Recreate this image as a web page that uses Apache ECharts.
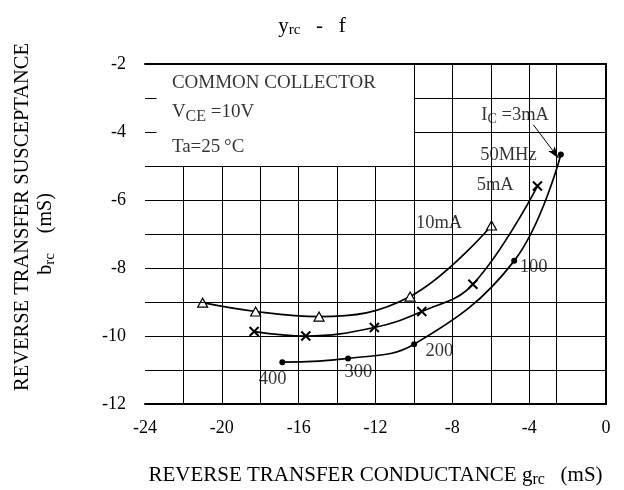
<!DOCTYPE html>
<html><head><meta charset="utf-8">
<script src="https://cdn.jsdelivr.net/npm/echarts@6/dist/echarts.min.js"></script>
<style>html,body{margin:0;padding:0;background:#fff}#c{width:624px;height:490px}</style>
</head><body><div id="c"></div>
<script>
// axis ranges / ticks
const xRange = [-24, 0];
const yRange = [-12, -2];
const xTickStep = 4;
const yTickStep = 2;
// grid lines (as printed in the original)
const gridLinesX = [-22, -20, -18, -16, -14, -12, -10, -8, -6, -4, -2.6];
const gridLinesY = [-3, -4, -5, -6, -7, -8, -9, -10, -11];
// legend box occupies x in [-24,-10], y in [-5,-2]
const boxEdgeX = -10;
const boxEdgeY = -5;

// series: I_C = 10 mA (triangles)
const ic10X = [-21.0, -18.24, -14.94, -10.2, -5.96];
const ic10Y = [-9.02, -9.28, -9.43, -8.84, -6.75];
// I_C = 5 mA (crosses)
const ic5X = [-18.32, -15.63, -12.06, -9.59, -6.93, -3.57];
const ic5Y = [-9.87, -10.0, -9.75, -9.28, -8.48, -5.59];
// I_C = 3 mA (dots)
const ic3X = [-16.85, -13.43, -9.99, -4.78, -2.35];
const ic3Y = [-10.77, -10.66, -10.24, -7.79, -4.66];

// annotations on the curves
const curveLabelTexts = ['I{sub|C} =3mA', '50MHz', '5mA', '10mA', '100', '200', '300', '400'];
const curveLabelX = [-4.73, -5.08, -5.77, -8.69, -3.77, -8.67, -12.89, -17.35];
const curveLabelY = [-3.5, -4.68, -5.56, -6.69, -7.98, -10.46, -11.05, -11.27];
const arrowFrom = [-3.78, -3.79];
const arrowTo = [-2.47, -4.77];

// legend box texts
const boxTexts = ['COMMON COLLECTOR', 'V{sub|CE} =10V', 'Ta=25\u2009\u00b0C'];
const boxX = [-22.6, -22.6, -22.6];
const boxY = [-2.56, -3.42, -4.43];

const FONT = 'Liberation Serif';
const zip = (xs, ys) => xs.map((x, i) => [x, ys[i]]);

const gridSegs = [];
gridLinesX.forEach(v => {
  const top = v < boxEdgeX ? boxEdgeY : yRange[1];
  gridSegs.push([{coord: [v, yRange[0]]}, {coord: [v, top]}]);
});
gridLinesY.forEach(v => {
  const left = v > boxEdgeY ? boxEdgeX : xRange[0];
  gridSegs.push([{coord: [left, v]}, {coord: [xRange[1], v]}]);
  if (v > boxEdgeY) gridSegs.push([{coord: [xRange[0], v]}, {coord: [xRange[0] + 0.6, v]}]);
});

const subRich = {sub: {fontSize: 14, fontFamily: FONT, color: '#000', padding: [9, 0, 0, 0]}};

const chart = echarts.init(document.getElementById('c'), null, {renderer: 'canvas'});
const frameAxis = {
  type: 'value', z: 10,
  axisLine: {show: true, lineStyle: {color: '#000', width: 2}},
  axisTick: {show: false}, splitLine: {show: false}
};
chart.setOption({
  animation: false,
  backgroundColor: '#fff',
  title: {
    text: 'y{sub|rc}   -   f', left: 'center', top: 10,
    textStyle: {fontFamily: FONT, fontSize: 21, fontWeight: 'normal', color: '#000',
      rich: {sub: {fontSize: 15, fontFamily: FONT, color: '#000', padding: [8, 0, 0, 0]}}}
  },
  grid: {left: 145, top: 64, width: 461, height: 340, containLabel: false, outerBoundsMode: 'none'},
  xAxis: [
    Object.assign({}, frameAxis, {
      min: xRange[0], max: xRange[1], interval: xTickStep, position: 'bottom',
      axisLabel: {color: '#000', fontSize: 18, fontFamily: FONT, margin: 15},
      name: 'REVERSE TRANSFER CONDUCTANCE g{sub|rc}   (mS)', nameLocation: 'middle', nameGap: 59,
      nameTextStyle: {color: '#000', fontSize: 21, fontFamily: FONT,
        rich: {sub: {fontSize: 16, fontFamily: FONT, color: '#000', padding: [9, 0, 0, 0]}}}
    }),
    Object.assign({}, frameAxis, {
      min: xRange[0], max: xRange[1], interval: xTickStep, position: 'top', axisLabel: {show: false}
    })
  ],
  yAxis: [
    Object.assign({}, frameAxis, {
      min: yRange[0], max: yRange[1], interval: yTickStep, position: 'left',
      axisLabel: {color: '#000', fontSize: 18, fontFamily: FONT, margin: 19},
      name: 'REVERSE TRANSFER SUSCEPTANCE', nameLocation: 'middle', nameRotate: 90, nameGap: 112,
      nameTextStyle: {color: '#000', fontSize: 20.5, fontFamily: FONT, padding: [0, 0, 0, 34]}
    }),
    Object.assign({}, frameAxis, {
      min: yRange[0], max: yRange[1], interval: yTickStep, position: 'right', axisLabel: {show: false}
    }),
    {
      type: 'value', min: yRange[0], max: yRange[1], position: 'left', show: true,
      axisLine: {show: false}, axisTick: {show: false}, axisLabel: {show: false}, splitLine: {show: false},
      name: 'b{sub|rc}    (mS)', nameLocation: 'middle', nameRotate: 90, nameGap: 87,
      nameTextStyle: {color: '#000', fontSize: 20, fontFamily: FONT,
        rich: {sub: {fontSize: 15, fontFamily: FONT, color: '#000', padding: [9, 0, 0, 0]}}}
    }
  ],
  series: [
    {
      name: 'grid', type: 'line', data: [], z: 1, silent: true,
      markLine: {silent: true, symbol: ['none', 'none'], label: {show: false},
        lineStyle: {color: '#000', width: 1, type: 'solid'}, emphasis: {disabled: true},
        data: gridSegs}
    },
    {
      name: 'annotations', type: 'scatter', symbolSize: 0, z: 3, silent: true,
      data: curveLabelTexts.map((t, i) => ({value: [curveLabelX[i], curveLabelY[i]],
        label: {show: true, position: 'inside', formatter: () => t, color: '#000', fontSize: 18.5,
          fontFamily: FONT, backgroundColor: '#fff', padding: [1, 3], rich: subRich}}))
        .concat(boxTexts.map((t, i) => ({value: [boxX[i], boxY[i]],
          label: {show: true, position: 'right', distance: 0, formatter: () => t, color: '#000',
            fontSize: 19, fontFamily: FONT, rich: {sub: {fontSize: 16, fontFamily: FONT, color: '#000', padding: [10, 0, 0, 0]}}}}))),
      markLine: {silent: true, symbol: ['none', 'arrow'], symbolSize: [6, 12], label: {show: false},
        lineStyle: {color: '#000', width: 1, type: 'solid'},
        data: [[{coord: arrowFrom}, {coord: arrowTo}]]}
    },
    {
      name: '10mA', type: 'line', smooth: 0.4, z: 4, data: zip(ic10X, ic10Y),
      lineStyle: {color: '#000', width: 1.7},
      symbol: 'triangle', symbolSize: [10, 9], showAllSymbol: true,
      itemStyle: {color: '#fff', borderColor: '#000', borderWidth: 1.2}
    },
    {
      name: '5mA', type: 'line', smooth: 0.4, z: 4, data: zip(ic5X, ic5Y),
      lineStyle: {color: '#000', width: 1.7},
      symbol: 'path://M0,0L10,10M10,0L0,10', symbolSize: 9, showAllSymbol: true,
      itemStyle: {color: '#000', borderColor: '#000', borderWidth: 2}
    },
    {
      name: '3mA', type: 'line', smooth: 0.4, z: 4, data: zip(ic3X, ic3Y),
      lineStyle: {color: '#000', width: 1.7},
      symbol: 'circle', symbolSize: 6, showAllSymbol: true,
      itemStyle: {color: '#000', borderWidth: 0}
    }
  ]
});
</script></body></html>
